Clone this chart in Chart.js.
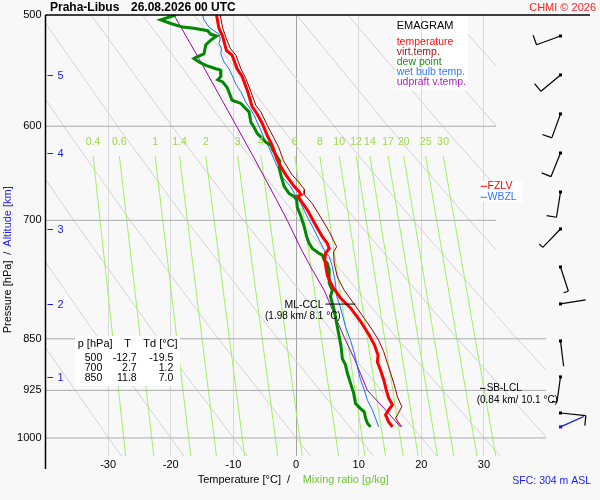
<!DOCTYPE html>
<html>
<head>
<meta charset="utf-8">
<title>Emagram Praha-Libus</title>
<script src="https://cdn.jsdelivr.net/npm/chart.js@4.4.1/dist/chart.umd.min.js"></script>
<style>
    body { margin: 0; background: #f8f8f8; }
    canvas { display: block; }
</style>
</head>
<body>
<canvas id="emagram" width="600" height="500"></canvas>
<script>
// Sondaz Praha-Libus 26.08.2026 00 UTC - hodnoty odectene z emagramu
var pressureTicks = [500, 600, 700, 850, 925, 1000];
var tempTicks = [-30, -20, -10, 0, 10, 20, 30];
var isobarP = [600, 700, 850, 925, 1000];

var tempP = [500, 511, 518, 530, 534, 546, 553, 567, 581, 588, 597, 609, 619, 634, 638, 650, 662, 668, 671, 673, 688, 705, 719, 727, 733, 739, 747, 766, 780, 795, 808, 826, 845, 858, 873, 883, 895, 909, 924, 937, 947, 958, 963, 974, 982];
var tempT = [-12.7, -12.3, -11.7, -11.1, -10.2, -9.4, -8.6, -7.7, -7.0, -6.2, -5.4, -4.6, -3.8, -3.0, -2.7, -1.6, -0.3, 0.5, 0.8, 0.3, 1.8, 3.1, 4.2, 5.0, 5.3, 4.7, 4.6, 5.0, 5.8, 7.1, 8.7, 10.3, 11.7, 12.5, 13.1, 13.0, 13.5, 14.0, 14.4, 14.8, 15.4, 14.6, 14.3, 14.8, 15.4];

var virtP = [500, 511, 520, 528, 534, 546, 555, 567, 580, 586, 599, 612, 622, 635, 650, 658, 666, 671, 681, 696, 713, 725, 731, 737, 751, 768, 785, 802, 822, 838, 852, 868, 885, 899, 914, 924, 935, 950, 963, 968, 974, 982];
var virtT = [-12.1, -11.7, -11.1, -10.5, -9.6, -8.8, -8.0, -7.2, -6.4, -5.6, -4.6, -3.5, -2.7, -2.0, -0.6, 0.5, 1.4, 1.3, 2.6, 3.9, 5.3, 6.1, 6.5, 6.0, 6.1, 6.6, 7.7, 9.2, 10.9, 12.2, 13.2, 14.0, 14.6, 15.1, 15.6, 15.9, 16.2, 16.9, 16.2, 15.9, 16.3, 16.9];

var dewP = [500, 504, 507, 510, 511, 513, 516, 517.5, 521, 525, 533, 536, 537, 540, 543, 546, 547, 553, 556, 558, 563, 575, 578, 583, 586, 596, 601, 607, 612, 616, 619, 624, 634, 645, 653, 662, 670, 673, 677, 685, 696, 707, 719, 727, 733, 739, 741, 747, 751, 759, 776, 785, 793, 811, 829, 847, 861, 878, 887, 899, 914, 929, 945, 953, 958, 968, 976, 982];
var dewT = [-19.2, -21.6, -20.0, -18.1, -16.3, -14.1, -13.6, -12.7, -13.6, -14.4, -14.7, -16.0, -16.3, -15.5, -14.4, -12.8, -12.1, -12.0, -12.5, -11.7, -11.0, -10.2, -8.8, -8.0, -7.5, -7.2, -6.7, -6.2, -5.4, -4.8, -4.0, -3.7, -2.7, -2.6, -2.3, -1.9, -1.1, -0.3, 0.1, 0.2, 0.8, 1.3, 1.7, 2.1, 2.6, 3.7, 4.2, 4.5, 5.0, 5.3, 5.3, 5.8, 5.5, 6.1, 6.5, 6.9, 7.2, 7.4, 7.9, 8.2, 8.7, 9.2, 9.5, 10.3, 10.9, 11.1, 11.4, 11.9];

var wetP = [500, 504, 510, 513, 516, 520, 524, 528, 533, 540, 546, 552, 560, 567, 577, 583, 589, 596, 604, 612, 617, 641, 652, 662, 673, 681, 696, 711, 723, 735, 743, 755, 776, 793, 802, 817, 833, 852, 870, 890, 909, 924, 940, 955, 968, 982];
var wetT = [-14.9, -14.7, -13.9, -13.1, -12.3, -12.1, -12.3, -11.9, -12.0, -11.5, -10.7, -10.2, -9.6, -8.8, -8.0, -7.3, -6.7, -6.2, -5.6, -5.1, -4.6, -3.0, -2.2, -0.9, 0.0, 0.8, 1.8, 2.9, 3.7, 4.5, 5.3, 5.8, 6.3, 6.5, 6.9, 7.4, 7.9, 8.7, 9.3, 9.8, 10.3, 10.9, 11.4, 12.2, 12.7, 13.2];

var parcelP = [500, 538, 575, 601, 632, 677, 700, 735, 759, 785, 824, 850, 878, 925, 954, 982];
var parcelT = [-19.5, -15.4, -11.8, -9.4, -6.7, -3.1, -1.4, 0.9, 2.6, 4.5, 6.5, 7.8, 9.3, 11.4, 14.2, 16.7];

// suche adiabaty (teplota na hladinach dryLevels), po 10 °C u 1000 hPa
var dryLevels = [500, 600, 700, 850, 1030];
var dryAdiabats = [
    [-73.7, -63.0, -53.6, -41.0, -27.9],
    [-65.5, -54.4, -44.6, -31.5, -17.9],
    [-57.3, -45.8, -35.5, -22.0, -7.8],
    [-49.1, -37.1, -26.5, -12.4, 2.3],
    [-40.9, -28.5, -17.5, -2.9, 12.4],
    [-32.7, -19.8, -8.4, 6.7, 22.5],
    [-24.5, -11.2, 0.6, 16.2, 32.6],
    [-16.3, -2.5, 9.6, 25.8, 42.7],
    [-8.1, 6.1, 18.7, 35.3, 52.7],
    [0.1, 14.7, 27.7, 44.9, 62.8],
    [8.3, 23.4, 36.7, 54.4, 72.9],
    [16.5, 32.0, 45.7, 64.0, 83.0],
    [24.7, 40.6, 54.8, 73.5, 93.1]
];

// izogramy smesovaciho pomeru [g/kg]
var mixLabels = ['0.4', '0.6', '1', '1.4', '2', '3', '4', '6', '8', '10', '12', '14', '17', '20', '25', '30'];
var mixTopP = 630;
var mixBottomP = 1030;
var mixTop = [-32.4, -28.2, -22.5, -18.6, -14.4, -9.3, -5.6, -0.2, 3.8, 6.9, 9.6, 11.8, 14.7, 17.2, 20.7, 23.5];
var mixBottom = [-27.2, -22.7, -16.8, -12.7, -8.2, -2.9, 1.0, 6.8, 11.0, 14.3, 17.1, 19.5, 22.6, 25.2, 28.9, 31.9];

// tabulka
var tableP = [500, 700, 850];
var tableT = [-12.7, 2.7, 11.8];
var tableTd = [-19.5, 1.2, 7.0];

// vyska [km]
var altKm = [1, 2, 3, 4, 5];
var altP = [905, 803, 710, 627, 552];

// vitr po 0.5 km
var windP = [517.5, 551.6, 588, 626.9, 668.3, 710, 755.6, 802.8, 853, 904.8, 959.9];
var windDir = [250, 230, 200, 202, 189, 224, 162, 81, 173, 188, 96];
var windSpd = [10, 10, 10, 10, 10, 5, 5, 0, 0, 5, 10];
var sfcWindP = 982;
var sfcWindDir = 66;
var sfcWindSpd = 0;

var fzlvP = 662;
var wbzlP = 674;
var mlCclP = 803;
var mlCclT = [4.7, 9.5];
var sbLclP = 922;

var FONT = 'Liberation Sans, Arial, sans-serif';
Chart.defaults.font.family = FONT;

function pts(ps, ts) {
    return ps.map(function (p, i) { return { x: ts[i], y: p }; });
}

var datasets = [];
dryAdiabats.forEach(function (row) {
    datasets.push({ data: pts(dryLevels, row), borderColor: '#d2d2d2', borderWidth: 1, order: 20 });
});
mixTop.forEach(function (t, i) {
    datasets.push({ data: [{ x: t, y: mixTopP }, { x: mixBottom[i], y: mixBottomP }], borderColor: 'rgb(160,240,100)', borderWidth: 1, order: 19 });
});
isobarP.forEach(function (p) {
    datasets.push({ data: [{ x: -40, y: p }, { x: 40, y: p }], borderColor: '#ababab', borderWidth: 1, order: 18 });
});
datasets.push({ label: 'udpraft v.temp.', data: pts(parcelP, parcelT), borderColor: '#a000b0', borderWidth: 1, order: 5 });
datasets.push({ label: 'wet bulb temp.', data: pts(wetP, wetT), borderColor: '#1e6bff', borderWidth: 1, order: 4 });
datasets.push({ label: 'dew point', data: pts(dewP, dewT), borderColor: '#008800', borderWidth: 3, order: 3 });
datasets.push({ label: 'virt.temp.', data: pts(virtP, virtT), borderColor: '#990000', borderWidth: 1, order: 2 });
datasets.push({ label: 'temperature', data: pts(tempP, tempT), borderColor: '#ff0000', borderWidth: 3, order: 1 });
datasets.forEach(function (d) {
    d.showLine = true;
    d.pointRadius = 0;
    d.fill = false;
});

var legendBox = { x: 395, y: 15.5, w: 73, h: 75 };

function txt(ctx, s, x, y, size, color, align, bold) {
    ctx.font = (bold ? 'bold ' : '') + size + 'px ' + FONT;
    ctx.fillStyle = color;
    ctx.textAlign = align || 'left';
    ctx.textBaseline = 'middle';
    ctx.fillText(s, x, y);
}

function drawBarb(ctx, x, y, dir, spd, color) {
    var r = dir * Math.PI / 180;
    var ux = Math.sin(r), uy = -Math.cos(r);
    var L = 25.5;
    var ex = x + ux * L, ey = y + uy * L;
    var px = -uy, py = ux;
    ctx.strokeStyle = color;
    ctx.lineWidth = 1.2;
    ctx.beginPath();
    ctx.moveTo(x, y);
    ctx.lineTo(ex, ey);
    var s = spd, k = 0;
    while (s >= 10) {
        var bx = ex - ux * k * 4, by = ey - uy * k * 4;
        ctx.moveTo(bx, by);
        ctx.lineTo(bx + px * 10, by + py * 10);
        s -= 10; k++;
    }
    if (s >= 5) {
        var hx = ex - ux * k * 4, hy = ey - uy * k * 4;
        ctx.moveTo(hx, hy);
        ctx.lineTo(hx + px * 5, hy + py * 5);
    }
    ctx.stroke();
    ctx.fillStyle = color;
    ctx.fillRect(x - 1.5, y - 1.5, 3, 3);
}

var emagramPlugin = {
    id: 'emagram',
    beforeDraw: function (chart) {
        var ctx = chart.ctx;
        ctx.save();
        ctx.fillStyle = '#ffffff';
        ctx.fillRect(legendBox.x, legendBox.y, legendBox.w, legendBox.h);
        ctx.restore();
    },
    beforeDatasetsDraw: function (chart) {
        var a = chart.chartArea, ctx = chart.ctx;
        ctx.save();
        ctx.beginPath();
        ctx.moveTo(a.left, a.top);
        ctx.lineTo(496, a.top);
        ctx.lineTo(496, 316);
        ctx.lineTo(a.right, 316);
        ctx.lineTo(a.right, a.bottom);
        ctx.lineTo(a.left, a.bottom);
        ctx.closePath();
        ctx.rect(legendBox.x, legendBox.y, legendBox.w, legendBox.h);
        ctx.clip('evenodd');
    },
    afterDatasetsDraw: function (chart) {
        var ctx = chart.ctx;
        ctx.restore();
        var xs = chart.scales.x, ys = chart.scales.y, a = chart.chartArea;
        ctx.save();

        // ramecek osy
        ctx.strokeStyle = '#000';
        ctx.lineWidth = 1.5;
        ctx.beginPath();
        ctx.moveTo(a.left, a.top);
        ctx.lineTo(590, a.top);
        ctx.moveTo(a.left, a.top);
        ctx.lineTo(a.left, 469);
        ctx.stroke();

        // popisky smesovaciho pomeru
        mixLabels.forEach(function (l, i) {
            txt(ctx, l, xs.getPixelForValue(mixTop[i]), 142, 10.5, 'rgb(160,215,70)', 'center');
        });

        // vyska km
        ctx.strokeStyle = '#1a1aff';
        ctx.lineWidth = 1;
        altKm.forEach(function (k, i) {
            var y = Math.round(ys.getPixelForValue(altP[i])) + 0.5;
            ctx.beginPath();
            ctx.moveTo(47.5, y);
            ctx.lineTo(53, y);
            ctx.stroke();
            txt(ctx, String(k), 57.5, y, 11, '#1a1aff', 'left');
        });

        // tabulka
        ctx.fillStyle = '#ffffff';
        ctx.fillRect(75, 336, 105, 50);
        txt(ctx, 'p [hPa]', 77.7, 343.5, 11, '#000', 'left');
        txt(ctx, 'T', 127.7, 343.5, 11, '#000', 'center');
        txt(ctx, 'Td [°C]', 143.3, 343.5, 11, '#000', 'left');
        tableP.forEach(function (p, i) {
            var y = 358.3 + i * 10;
            txt(ctx, String(p), 102.3, y, 10.5, '#000', 'right');
            txt(ctx, tableT[i].toFixed(1), 136.7, y, 10.5, '#000', 'right');
            txt(ctx, tableTd[i].toFixed(1), 173.3, y, 10.5, '#000', 'right');
        });

        // legenda
        txt(ctx, 'EMAGRAM', 396.7, 25.7, 11, '#000', 'left');
        var legItems = [['temperature', '#ff1010'], ['virt.temp.', '#a01818'], ['dew point', '#159015'], ['wet bulb temp.', '#3377ff'], ['udpraft v.temp.', '#b020c0']];
        legItems.forEach(function (it, i) {
            txt(ctx, it[0], 396.7, 42.3 + i * 9.85, 10.5, it[1], 'left');
        });

        // FZLV / WBZL
        var yf = ys.getPixelForValue(fzlvP), yw = ys.getPixelForValue(wbzlP);
        ctx.fillStyle = '#ffffff';
        ctx.fillRect(480, yf - 5, 43, 21);
        ctx.lineWidth = 1;
        ctx.strokeStyle = '#ff0000';
        ctx.beginPath(); ctx.moveTo(480.5, yf); ctx.lineTo(487, yf); ctx.stroke();
        txt(ctx, 'FZLV', 487.5, yf, 10.5, '#ff0000', 'left');
        ctx.strokeStyle = '#3377ff';
        ctx.beginPath(); ctx.moveTo(480.5, yw); ctx.lineTo(487, yw); ctx.stroke();
        txt(ctx, 'WBZL', 487.5, yw, 10.5, '#3377ff', 'left');

        // ML-CCL
        var yc = ys.getPixelForValue(mlCclP);
        ctx.strokeStyle = '#000';
        ctx.beginPath();
        ctx.moveTo(xs.getPixelForValue(mlCclT[0]), yc);
        ctx.lineTo(xs.getPixelForValue(mlCclT[1]), yc);
        ctx.stroke();
        txt(ctx, 'ML-CCL', 323.5, yc + 1, 10.5, '#000', 'right');
        txt(ctx, '(1.98 km/ 8.1 °C)', 265, yc + 12, 10, '#000', 'left');

        // SB-LCL
        var yl = ys.getPixelForValue(sbLclP);
        ctx.beginPath(); ctx.moveTo(480, yl); ctx.lineTo(485.5, yl); ctx.stroke();
        txt(ctx, 'SB-LCL', 486.7, yl, 10, '#000', 'left');
        txt(ctx, '(0.84 km/ 10.1 °C)', 476.7, yl + 11.5, 10, '#000', 'left');

        // vitr
        windP.forEach(function (p, i) {
            drawBarb(ctx, 560.5, ys.getPixelForValue(p), windDir[i], windSpd[i], '#000');
        });
        drawBarb(ctx, 560.5, ys.getPixelForValue(sfcWindP), sfcWindDir, sfcWindSpd, '#1010ee');

        // titulky
        txt(ctx, 'Praha-Libus', 50, 7.5, 12, '#000', 'left', true);
        txt(ctx, '26.08.2026 00 UTC', 131, 7.5, 12, '#000', 'left', true);
        txt(ctx, 'CHMI © 2026', 596, 7.5, 11, '#ff2020', 'right');
        txt(ctx, 'Temperature [°C]', 197.7, 479.5, 11, '#000', 'left');
        txt(ctx, '/', 287, 479.5, 11, '#000', 'left');
        txt(ctx, 'Mixing ratio [g/kg]', 302.7, 479.5, 11, 'rgb(110,200,50)', 'left');
        txt(ctx, 'SFC: 304 m ASL', 512.3, 481.5, 10.5, '#1a1aff', 'left');

        ctx.translate(8, 333.3);
        ctx.rotate(-Math.PI / 2);
        txt(ctx, 'Pressure [hPa]', 0, 0, 11, '#000', 'left');
        txt(ctx, '/', 78.5, 0, 11, '#000', 'left');
        txt(ctx, 'Altitude [km]', 86.6, 0, 11, '#1a1aff', 'left');
        ctx.restore();
    }
};

var ctx = document.getElementById('emagram').getContext('2d');
var chart = new Chart(ctx, {
    type: 'scatter',
    data: { datasets: datasets },
    plugins: [emagramPlugin],
    options: {
        responsive: false,
        animation: false,
        layout: { padding: { left: 0, top: 15, right: 53.5, bottom: 0 } },
        plugins: { legend: { display: false }, tooltip: { enabled: false } },
        scales: {
            x: {
                type: 'linear',
                min: -40,
                max: 40,
                afterBuildTicks: function (s) {
                    s.ticks = [-40].concat(tempTicks, [40]).map(function (v) { return { value: v }; });
                },
                afterFit: function (s) { s.height = 44; },
                ticks: {
                    autoSkip: false,
                    maxRotation: 0,
                    padding: 2,
                    color: '#000',
                    font: { size: 11 },
                    callback: function (v) { return Math.abs(v) === 40 ? '' : String(v); }
                },
                grid: {
                    drawTicks: false,
                    lineWidth: 1,
                    color: function (c) {
                        var v = c.tick ? c.tick.value : null;
                        if (v === 0) return '#a4a4a4';
                        if (v === -40 || v === 40) return 'rgba(0,0,0,0)';
                        return '#d9d9d9';
                    }
                },
                border: { display: false }
            },
            y: {
                type: 'logarithmic',
                reverse: true,
                min: 500,
                max: 1030,
                afterBuildTicks: function (s) {
                    s.ticks = pressureTicks.map(function (v) { return { value: v }; });
                },
                afterFit: function (s) { s.width = 45.5; },
                ticks: {
                    autoSkip: false,
                    padding: 4,
                    color: '#000',
                    font: { size: 11 },
                    callback: function (v) { return String(v); }
                },
                grid: { display: false, drawTicks: false },
                border: { display: false }
            }
        }
    }
});
</script>
</body>
</html>
